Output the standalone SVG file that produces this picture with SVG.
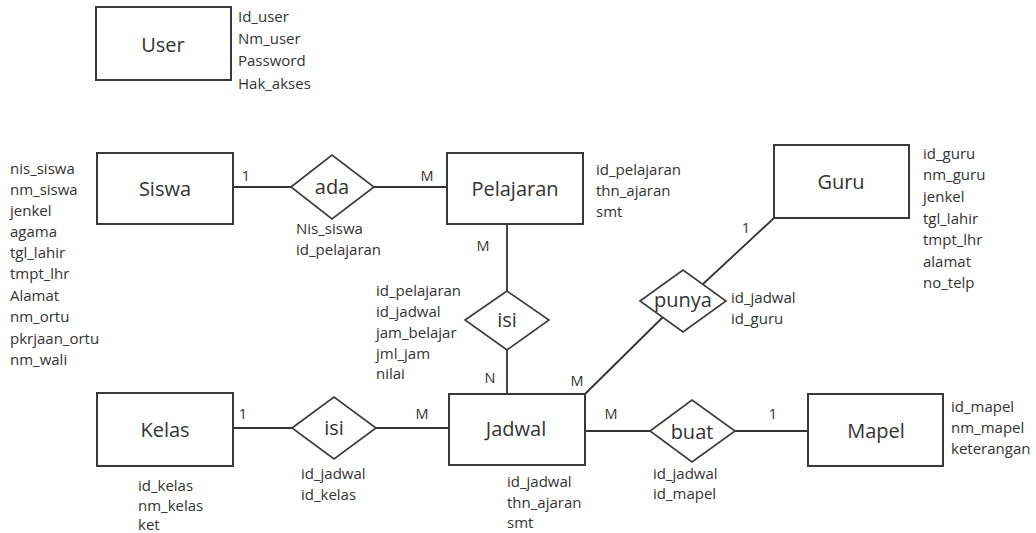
<svg xmlns="http://www.w3.org/2000/svg" width="1036" height="533" viewBox="0 0 1036 533">
<style>
text{font-family:"Open Sans","Liberation Sans",sans-serif;fill:#333;dominant-baseline:central}
.ent{fill:#fff;stroke:#3a3a3a;stroke-width:2}
.rel{fill:#fff;stroke:#3a3a3a;stroke-width:1.6}
.lbl{font-size:20px;text-anchor:middle}
.att{font-size:15px}
.card{font-size:14.5px;text-anchor:middle}
#connectors line{stroke:#333;stroke-width:1.8}
</style>
<rect width="1036" height="533" fill="#fff"/>
<g id="connectors">
<line x1="233" y1="187" x2="291" y2="187"/>
<line x1="374" y1="187" x2="447" y2="187"/>
<line x1="507" y1="224" x2="507" y2="291"/>
<line x1="507" y1="350" x2="507" y2="394"/>
<line x1="585" y1="394" x2="663" y2="317"/>
<line x1="703" y1="284" x2="774" y2="218"/>
<line x1="233" y1="428" x2="292" y2="428"/>
<line x1="376" y1="428" x2="449" y2="428"/>
<line x1="585" y1="431" x2="650" y2="431"/>
<line x1="735" y1="431" x2="808" y2="431"/>
<text class="card" x="246" y="175">1</text>
<text class="card" x="427" y="175">M</text>
<text class="card" x="483" y="245">M</text>
<text class="card" x="490" y="377">N</text>
<text class="card" x="577" y="380">M</text>
<text class="card" x="746" y="227">1</text>
<text class="card" x="243" y="413">1</text>
<text class="card" x="422" y="413">M</text>
<text class="card" x="611" y="413">M</text>
<text class="card" x="773" y="413">1</text>
</g>
<g id="user">
<rect class="ent" x="96" y="7" width="135" height="73"/>
<text class="lbl" x="163" y="44">User</text>
<text class="att" x="238" y="16">Id_user</text>
<text class="att" x="238" y="38">Nm_user</text>
<text class="att" x="238" y="60">Password</text>
<text class="att" x="238" y="83">Hak_akses</text>
</g>
<g id="siswa">
<rect class="ent" x="97" y="153" width="136" height="71"/>
<text class="lbl" x="165" y="188">Siswa</text>
<text class="att" x="10" y="168">nis_siswa</text>
<text class="att" x="10" y="189">nm_siswa</text>
<text class="att" x="10" y="210">jenkel</text>
<text class="att" x="10" y="231">agama</text>
<text class="att" x="10" y="252">tgl_lahir</text>
<text class="att" x="10" y="273">tmpt_lhr</text>
<text class="att" x="10" y="295">Alamat</text>
<text class="att" x="10" y="316">nm_ortu</text>
<text class="att" x="10" y="338">pkrjaan_ortu</text>
<text class="att" x="10" y="359">nm_wali</text>
</g>
<g id="ada">
<polygon class="rel" points="291,187 332,155 374,187 332,219"/>
<text class="lbl" x="332" y="186">ada</text>
<text class="att" x="296" y="228">Nis_siswa</text>
<text class="att" x="296" y="249">id_pelajaran</text>
</g>
<g id="pelajaran">
<rect class="ent" x="447" y="153" width="136" height="71"/>
<text class="lbl" x="515" y="188">Pelajaran</text>
<text class="att" x="596" y="169">id_pelajaran</text>
<text class="att" x="596" y="190">thn_ajaran</text>
<text class="att" x="596" y="211">smt</text>
</g>
<g id="isi1">
<polygon class="rel" points="465,320 507,291 549,320 507,350"/>
<text class="lbl" x="507" y="319">isi</text>
<text class="att" x="376" y="290">id_pelajaran</text>
<text class="att" x="376" y="311">id_jadwal</text>
<text class="att" x="376" y="332">jam_belajar</text>
<text class="att" x="376" y="353">jml_jam</text>
<text class="att" x="376" y="373">nilai</text>
</g>
<g id="guru">
<rect class="ent" x="774" y="145" width="135" height="73"/>
<text class="lbl" x="841" y="181">Guru</text>
<text class="att" x="923" y="153">id_guru</text>
<text class="att" x="923" y="174">nm_guru</text>
<text class="att" x="923" y="196">jenkel</text>
<text class="att" x="923" y="218">tgl_lahir</text>
<text class="att" x="923" y="239">tmpt_lhr</text>
<text class="att" x="923" y="261">alamat</text>
<text class="att" x="923" y="282">no_telp</text>
</g>
<g id="punya">
<polygon class="rel" points="640,301 683,270 726,301 683,332"/>
<text class="lbl" x="683" y="299">punya</text>
<text class="att" x="731" y="297">id_jadwal</text>
<text class="att" x="731" y="318">id_guru</text>
</g>
<g id="kelas">
<rect class="ent" x="97" y="393" width="136" height="73"/>
<text class="lbl" x="165" y="429">Kelas</text>
<text class="att" x="138" y="485">id_kelas</text>
<text class="att" x="138" y="505">nm_kelas</text>
<text class="att" x="138" y="524">ket</text>
</g>
<g id="isi2">
<polygon class="rel" points="292,428 334,397 376,428 334,459"/>
<text class="lbl" x="334" y="427">isi</text>
<text class="att" x="301" y="473">id_jadwal</text>
<text class="att" x="301" y="494">id_kelas</text>
</g>
<g id="jadwal">
<rect class="ent" x="449" y="394" width="136" height="71"/>
<text class="lbl" x="516" y="428">Jadwal</text>
<text class="att" x="507" y="481">id_jadwal</text>
<text class="att" x="507" y="502">thn_ajaran</text>
<text class="att" x="507" y="522">smt</text>
</g>
<g id="buat">
<polygon class="rel" points="650,431 692,400 735,431 692,462"/>
<text class="lbl" x="692" y="431">buat</text>
<text class="att" x="653" y="473">id_jadwal</text>
<text class="att" x="653" y="493">id_mapel</text>
</g>
<g id="mapel">
<rect class="ent" x="808" y="394" width="135" height="72"/>
<text class="lbl" x="876" y="430">Mapel</text>
<text class="att" x="951" y="406">id_mapel</text>
<text class="att" x="951" y="427">nm_mapel</text>
<text class="att" x="951" y="448">keterangan</text>
</g>
</svg>
